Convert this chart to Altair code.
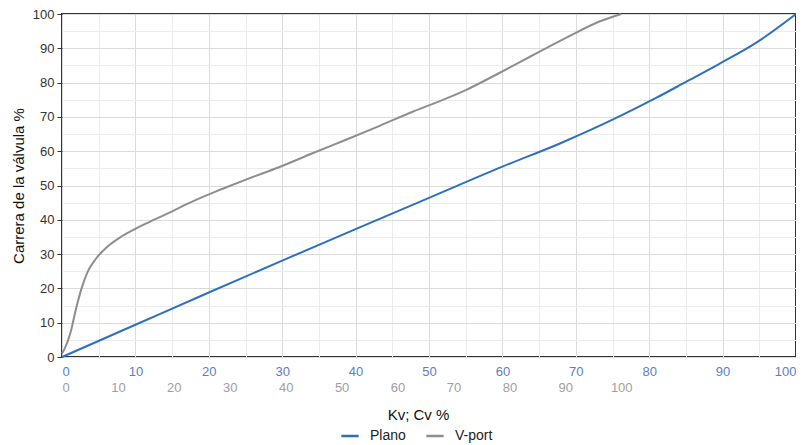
import altair as alt
import pandas as pd

# ---- data ----
plano_kv = [0, 10, 20, 30, 40, 50, 60, 68, 76, 81, 85, 89.5, 94.7, 100]
plano_lift = [0, 9.4, 18.8, 28.1, 37.3, 46.4, 55.5, 62.4, 70.2, 75.6, 80.2, 85.4, 91.8, 100]

vport_cv = [0, 0.5, 1.5, 2.5, 3.5, 4.5, 6, 8, 10.7, 13.6, 16.6, 19.6, 22.5, 25.5, 28.5,
            33.0, 38.9, 44.8, 50.9, 56.8, 62.7, 66.3, 72.3, 78.2, 84.1, 90.2, 96.1, 100]
vport_lift = [1.0, 2.5, 7.0, 14.0, 20.0, 24.5, 28.5, 32.0, 35.2, 37.8, 40.1, 42.4, 44.7, 46.9, 48.9,
              51.8, 55.4, 59.4, 63.4, 67.4, 71.5, 73.8, 77.9, 82.8, 87.9, 93.1, 97.8, 100]

label_ticks = list(range(0, 101, 10))
grid_ticks = list(range(0, 101, 5))
series = ["Plano", "V-port"]
series_colors = ["#2f6fc2", "#8e8e8e"]

FONT = "Liberation Sans"
W, H = 734, 343
VPORT_DOMAIN_MAX = 131.25  # V-port 100 % sits at Plano ~76 %

df_p = pd.DataFrame({"x": plano_kv, "y": plano_lift, "serie": "Plano"})
df_v = pd.DataFrame({"x": vport_cv, "y": vport_lift, "serie": "V-port"})

minor = "datum.value % 10 !== 0"
grid_color = {"condition": {"test": minor, "value": "#ececec"}, "value": "#dcdcdc"}
tick_op = {"condition": {"test": minor, "value": 0}, "value": 1}
show_major = "datum.value % 10 === 0 ? datum.label : ''"


def y_enc():
    return alt.Y(
        "y:Q",
        scale=alt.Scale(domain=[0, 100], nice=False),
        axis=alt.Axis(
            values=grid_ticks, labelExpr=show_major, labelOverlap=False, grid=True,
            gridColor=grid_color, domain=False, ticks=True, tickSize=5, tickColor="#333",
            tickOpacity=tick_op, labelPadding=3, labelFontSize=13, labelColor="#333",
            labelFont=FONT,
            title="Carrera de la válvula %", titleFont=FONT, titleFontSize=15,
            titleFontWeight="normal", titleColor="#111", titleX=-44, titleY=H / 2,
            titleBaseline="middle", titleAlign="center",
        ),
    )


color_enc = alt.Color(
    "serie:N",
    scale=alt.Scale(domain=series, range=series_colors),
    legend=alt.Legend(
        orient="none", legendX=278, legendY=412, direction="horizontal", title=None,
        symbolType="stroke", symbolSize=300, symbolStrokeWidth=2.5, padding=0,
        labelFont=FONT, labelFontSize=14, labelColor="#222", labelOffset=10,
        columnPadding=15,
    ),
)

plano = alt.Chart(df_p).mark_line(strokeWidth=2, interpolate="monotone").encode(
    x=alt.X(
        "x:Q",
        scale=alt.Scale(domain=[0, 100], nice=False),
        axis=alt.Axis(
            orient="bottom", values=grid_ticks, labelExpr=show_major, labelOverlap=False,
            grid=True, gridColor=grid_color, domain=False, ticks=False, tickSize=0,
            labelPadding=8, labelFontSize=13, labelColor="#5b7ec4", labelFont=FONT,
            title=None,
        ),
    ),
    y=y_enc(),
    color=color_enc,
)

vport = alt.Chart(df_v).mark_line(strokeWidth=2, interpolate="monotone").encode(
    x=alt.X(
        "x:Q",
        scale=alt.Scale(domain=[0, VPORT_DOMAIN_MAX], nice=False, zero=True),
        axis=alt.Axis(
            orient="bottom", offset=16, values=label_ticks, labelOverlap=False, grid=False,
            domain=False, ticks=False, tickSize=0,
            labelPadding=8, labelFontSize=13, labelColor="#a0a0a0", labelFont=FONT,
            title="Kv; Cv %", titleFont=FONT, titleFontSize=15, titleFontWeight="normal",
            titleColor="#111", titleX=356, titleY=41, titleBaseline="middle",
            titleAlign="center",
        ),
    ),
    y=y_enc(),
    color=color_enc,
)

chart = (
    alt.layer(plano, vport)
    .resolve_scale(x="independent")
    .properties(
        width=W, height=H,
        autosize=alt.AutoSizeParams(type="none"),
        padding={"left": 54, "top": 6, "right": 0, "bottom": 88},
        background="white",
    )
    .configure_view(stroke="#333", strokeWidth=2)
)

chart.save("out.html", embed_options={"renderer": "svg", "actions": False})
